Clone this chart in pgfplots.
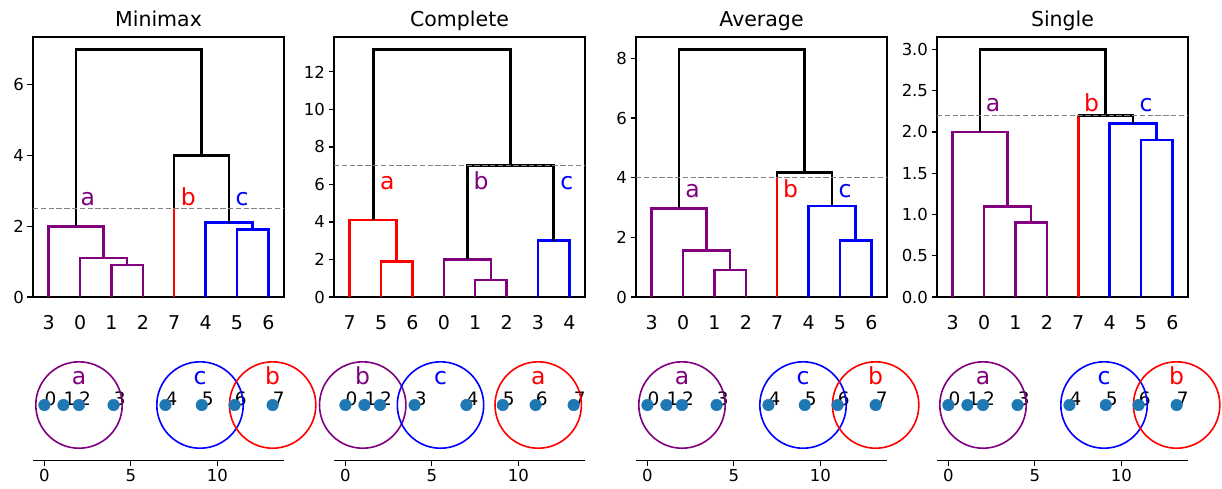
\documentclass[border=0pt]{standalone}
\usepackage{pgfplots}
\pgfplotsset{compat=1.18}
\usepackage{fontspec}
\setmainfont{DejaVu Sans}
\definecolor{mpurple}{HTML}{800080}
\definecolor{mred}{HTML}{FF0000}
\definecolor{mblue}{HTML}{0000FF}
\definecolor{tabblue}{HTML}{1F77B4}
\definecolor{cutgray}{HTML}{808080}
\newcommand{\fs}[1]{\fontsize{#1bp}{#1bp}\selectfont}
\pgfplotsset{
  dendro/.style={
    scale only axis, width=251bp, height=260bp,
    xmin=0, xmax=80, ymin=0,
    xtick={5,15,...,75},
    xticklabels={3,0,1,2,7,4,5,6},
    x tick style={draw=none},
    tick align=outside, ytick pos=left, xtick pos=bottom,
    major tick length=5.5bp,
    every tick/.append style={line width=1.2bp, black},
    axis line style={line width=1.2bp},
    yticklabel style={font=\fs{16.5}},
    xticklabel style={font=\fs{19}, yshift=-9.5bp},
    title style={font=\fs{20.5}, anchor=base, at={(0.5,1)}, yshift=4.3bp},
    /pgf/number format/assume math mode=true,
    clip=false,
  },
  scat/.style={
    x=17.29bp, y=17.29bp,
    xmin=-0.66, xmax=13.86, ymin=-3.22, ymax=3.22,
    axis x line*=bottom, axis y line=none,
    xtick={0,5,10}, tick align=outside, major tick length=5.5bp,
    every tick/.append style={line width=1.2bp, black},
    axis line style={line width=1.2bp},
    xticklabel style={font=\fs{16.5}},
    /pgf/number format/assume math mode=true,
    clip=false,
  },
  lk/.style={line width=2.6bp, line join=miter},
  cut/.style={cutgray, line width=1.5bp, dash pattern=on 5.4bp off 2.4bp},
  pts/.style={only marks, mark=*, mark size=5.8bp, color=tabblue, mark options={draw=none, fill=tabblue}},
}
\newcommand{\clab}[4]{\node[anchor=base, text=#1, font=\fs{23.5}, inner sep=0pt] at (axis cs:#2,#3) {#4};}
\newcommand{\plab}[2]{\node[anchor=base west, font=\fs{18.5}, inner sep=0pt] at (axis cs:#1,0) {#2};}
\begin{document}
\begin{tikzpicture}
\useasboundingbox (0,0) rectangle (1222bp,489bp);
% ---------------- Minimax ----------------
\begin{axis}[dendro, at={(33bp,192bp)}, title={Minimax}, ymax=7.35, ytick={0,2,4,6}]
\addplot[lk, mpurple] coordinates {(25,0)(25,0.9)(35,0.9)(35,0)};
\addplot[lk, mpurple] coordinates {(15,0)(15,1.1)(30,1.1)(30,0.9)};
\addplot[lk, mpurple] coordinates {(5,0)(5,2)(22.5,2)(22.5,1.1)};
\addplot[lk, mblue] coordinates {(65,0)(65,1.9)(75,1.9)(75,0)};
\addplot[lk, mblue] coordinates {(55,0)(55,2.1)(70,2.1)(70,1.9)};
\addplot[lk, mred] coordinates {(45,0)(45,2.5)};
\addplot[lk, black] coordinates {(45,2.5)(45,4)(62.5,4)(62.5,2.1)};
\addplot[lk, black] coordinates {(13.75,2)(13.75,7)(53.75,7)(53.75,4)};
\addplot[cut] coordinates {(0,2.5)(80,2.5)};
\clab{mpurple}{17.5}{2.58}{a}
\clab{mred}{49.5}{2.58}{b}
\clab{mblue}{66.6}{2.58}{c}
\end{axis}
% ---------------- Complete ----------------
\begin{axis}[dendro, at={(334bp,192bp)}, title={Complete}, ymax=13.86, ytick={0,2,...,12},
  xticklabels={7,5,6,0,1,2,3,4}]
\addplot[lk, mred] coordinates {(15,0)(15,1.9)(25,1.9)(25,0)};
\addplot[lk, mred] coordinates {(5,0)(5,4.1)(20,4.1)(20,1.9)};
\addplot[lk, mpurple] coordinates {(45,0)(45,0.9)(55,0.9)(55,0)};
\addplot[lk, mpurple] coordinates {(35,0)(35,2)(50,2)(50,0.9)};
\addplot[lk, mblue] coordinates {(65,0)(65,3)(75,3)(75,0)};
\addplot[lk, black] coordinates {(42.5,2)(42.5,7)(70,7)(70,3)};
\addplot[lk, black] coordinates {(12.5,4.1)(12.5,13.2)(56.25,13.2)(56.25,7)};
\addplot[cut] coordinates {(0,7)(80,7)};
\clab{mred}{17}{5.74}{a}
\clab{mpurple}{46.85}{5.74}{b}
\clab{mblue}{74.2}{5.74}{c}
\end{axis}
% ---------------- Average ----------------
\begin{axis}[dendro, at={(636bp,192bp)}, title={Average}, ymax=8.715, ytick={0,2,4,6,8}]
\addplot[lk, mpurple] coordinates {(25,0)(25,0.9)(35,0.9)(35,0)};
\addplot[lk, mpurple] coordinates {(15,0)(15,1.55)(30,1.55)(30,0.9)};
\addplot[lk, mpurple] coordinates {(5,0)(5,2.967)(22.5,2.967)(22.5,1.55)};
\addplot[lk, mblue] coordinates {(65,0)(65,1.9)(75,1.9)(75,0)};
\addplot[lk, mblue] coordinates {(55,0)(55,3.05)(70,3.05)(70,1.9)};
\addplot[lk, mred] coordinates {(45,0)(45,4)};
\addplot[lk, black] coordinates {(45,4)(45,4.167)(62.5,4.167)(62.5,3.05)};
\addplot[lk, black] coordinates {(13.75,2.967)(13.75,8.3)(53.75,8.3)(53.75,4.167)};
\addplot[cut] coordinates {(0,4)(80,4)};
\clab{mpurple}{18.06}{3.32}{a}
\clab{mred}{49.3}{3.32}{b}
\clab{mblue}{66.6}{3.32}{c}
\end{axis}
% ---------------- Single ----------------
\begin{axis}[dendro, at={(937bp,192bp)}, title={Single}, ymax=3.15, ytick={0,0.5,...,3},
  yticklabel style={/pgf/number format/.cd, fixed, fixed zerofill, precision=1}]
\addplot[lk, mpurple] coordinates {(25,0)(25,0.9)(35,0.9)(35,0)};
\addplot[lk, mpurple] coordinates {(15,0)(15,1.1)(30,1.1)(30,0.9)};
\addplot[lk, mpurple] coordinates {(5,0)(5,2)(22.5,2)(22.5,1.1)};
\addplot[lk, mblue] coordinates {(65,0)(65,1.9)(75,1.9)(75,0)};
\addplot[lk, mblue] coordinates {(55,0)(55,2.1)(70,2.1)(70,1.9)};
\addplot[lk, mred] coordinates {(45,0)(45,2.2)};
\addplot[lk, black] coordinates {(45,2.2)(62.5,2.2)(62.5,2.1)};
\addplot[lk, black] coordinates {(13.75,2)(13.75,3)(53.75,3)(53.75,2.2)};
\addplot[cut] coordinates {(0,2.2)(80,2.2)};
\clab{mpurple}{17.9}{2.245}{a}
\clab{mred}{49.3}{2.245}{b}
\clab{mblue}{66.6}{2.245}{c}
\end{axis}
% ---------------- bottom scatter panels ----------------
\begin{axis}[scat, at={(33bp,28.3bp)}]
\addplot[pts] coordinates {(0,0)(1.1,0)(2,0)(4,0)(7,0)(9.1,0)(11,0)(13.2,0)};
\plab{0}{0}\plab{1.1}{1}\plab{2}{2}\plab{4}{3}\plab{7}{4}\plab{9.1}{5}\plab{11}{6}\plab{13.2}{7}
\draw[mpurple, line width=1.6bp] (axis cs:2,0) circle[radius=43.2bp];
\draw[mblue, line width=1.6bp] (axis cs:9,0) circle[radius=43.2bp];
\draw[mred, line width=1.6bp] (axis cs:13.2,0) circle[radius=43.2bp];
\clab{mpurple}{2}{1.16}{a}
\clab{mblue}{9}{1.16}{c}
\clab{mred}{13.2}{1.16}{b}
\end{axis}
\begin{axis}[scat, at={(334bp,28.3bp)}]
\addplot[pts] coordinates {(0,0)(1.1,0)(2,0)(4,0)(7,0)(9.1,0)(11,0)(13.2,0)};
\plab{0}{0}\plab{1.1}{1}\plab{2}{2}\plab{4}{3}\plab{7}{4}\plab{9.1}{5}\plab{11}{6}\plab{13.2}{7}
\draw[mpurple, line width=1.6bp] (axis cs:1,0) circle[radius=43.2bp];
\draw[mblue, line width=1.6bp] (axis cs:5.5,0) circle[radius=43.2bp];
\draw[mred, line width=1.6bp] (axis cs:11.15,0) circle[radius=43.2bp];
\clab{mpurple}{1}{1.16}{b}
\clab{mblue}{5.5}{1.16}{c}
\clab{mred}{11.15}{1.16}{a}
\end{axis}
\begin{axis}[scat, at={(636bp,28.3bp)}]
\addplot[pts] coordinates {(0,0)(1.1,0)(2,0)(4,0)(7,0)(9.1,0)(11,0)(13.2,0)};
\plab{0}{0}\plab{1.1}{1}\plab{2}{2}\plab{4}{3}\plab{7}{4}\plab{9.1}{5}\plab{11}{6}\plab{13.2}{7}
\draw[mpurple, line width=1.6bp] (axis cs:2,0) circle[radius=43.2bp];
\draw[mblue, line width=1.6bp] (axis cs:9,0) circle[radius=43.2bp];
\draw[mred, line width=1.6bp] (axis cs:13.2,0) circle[radius=43.2bp];
\clab{mpurple}{2}{1.16}{a}
\clab{mblue}{9}{1.16}{c}
\clab{mred}{13.2}{1.16}{b}
\end{axis}
\begin{axis}[scat, at={(937bp,28.3bp)}]
\addplot[pts] coordinates {(0,0)(1.1,0)(2,0)(4,0)(7,0)(9.1,0)(11,0)(13.2,0)};
\plab{0}{0}\plab{1.1}{1}\plab{2}{2}\plab{4}{3}\plab{7}{4}\plab{9.1}{5}\plab{11}{6}\plab{13.2}{7}
\draw[mpurple, line width=1.6bp] (axis cs:2,0) circle[radius=43.2bp];
\draw[mblue, line width=1.6bp] (axis cs:9,0) circle[radius=43.2bp];
\draw[mred, line width=1.6bp] (axis cs:13.2,0) circle[radius=43.2bp];
\clab{mpurple}{2}{1.16}{a}
\clab{mblue}{9}{1.16}{c}
\clab{mred}{13.2}{1.16}{b}
\end{axis}
\end{tikzpicture}
\end{document}
